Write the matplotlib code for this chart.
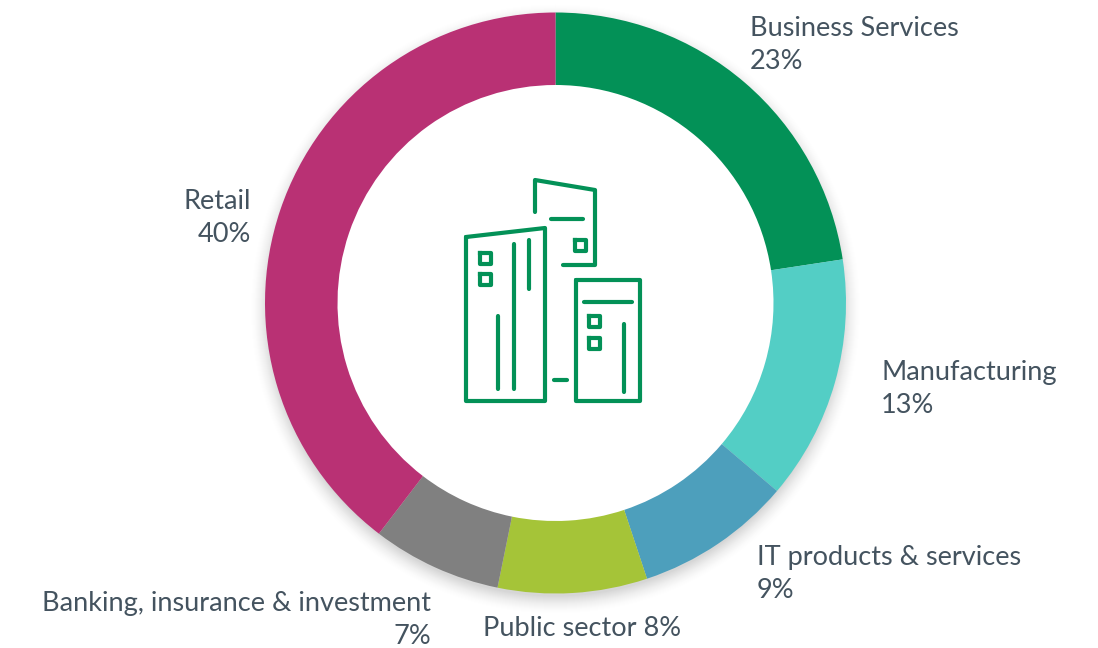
import matplotlib
matplotlib.use("Agg")
import matplotlib.pyplot as plt
from matplotlib.patches import Circle

# Data
sectors = ["Business Services", "Manufacturing", "IT products & services",
           "Public sector", "Banking, insurance & investment", "Retail"]
# arc sizes as measured on the ring (the labels are rounded)
shares = [22.6, 13.6, 8.7, 8.3, 7.2, 39.6]
colors = ["#039157", "#53cec5", "#4d9fbc", "#a5c438", "#808080", "#b93174"]

# label text + where it goes (pixels)
label_text = ["Business Services\n23%", "Manufacturing\n13%", "IT products & services\n9%",
              "Public sector 8%", "Banking, insurance & investment\n7%", "Retail\n40%"]
label_x = [750, 881, 757, 483, 431, 251]
label_y = [45, 389, 574, 629, 620, 218]
label_ha = ["left", "left", "left", "left", "right", "right"]

CX, CY = 555.5, 303
R_OUT, R_IN = 290.5, 218
GREEN = "#039157"
TEXT = "#44535f"

plt.rcParams['font.family'] = ['Lato', 'DejaVu Sans']

fig = plt.figure(figsize=(10.98, 6.48), dpi=100)
ax = fig.add_axes([0, 0, 1, 1])

# soft shadow under the ring
for i in range(18):
    ax.add_patch(Circle((CX, CY + 6), R_OUT + 14 - i, color="black", alpha=0.004 + 0.0006 * i,
                        lw=0, zorder=1))
ax.add_patch(Circle((CX, CY), R_IN + 2, color="white", lw=0, zorder=1.5))

# y axis is flipped below, so angles run the other way round
ax.pie(shares, colors=colors, startangle=-90, counterclock=True, center=(CX, CY), radius=R_OUT,
       wedgeprops=dict(width=R_OUT - R_IN, linewidth=0, zorder=2), frame=True)

ax.set_xlim(0, 1098)
ax.set_ylim(648, 0)
ax.set_aspect("equal")
ax.axis("off")

for txt, x, y, ha in zip(label_text, label_x, label_y, label_ha):
    ax.text(x, y, txt, ha=ha, va="center", fontsize=19.5, color=TEXT, fontweight="normal",
            linespacing=1.42, multialignment=ha, zorder=5)

# building icon, in px
icon_lines = [
    [(466, 237), (545, 228), (545, 401), (466, 401), (466, 237)],
    [(535, 212), (535, 180), (595, 190), (595, 265), (563, 265)],
    [(551, 219), (583, 219)],
    [(576, 280), (640, 280), (640, 401), (576, 401), (576, 280)],
    [(584, 302), (632, 302)],
    [(624, 324), (624, 392)],
    [(554, 380), (567, 380)],
    [(498, 316), (498, 389)],
    [(514, 244), (514, 389)],
    [(529, 240), (529, 289)],
]
icon_boxes = [(480, 253), (480, 274), (575, 240), (589, 316), (589, 338)]

for line in icon_lines:
    ax.plot([p[0] for p in line], [p[1] for p in line], color=GREEN, lw=3,
            solid_capstyle="round", solid_joinstyle="round", zorder=6)
for bx, by in icon_boxes:
    ax.plot([bx - 0.5, bx + 10.5, bx + 10.5, bx - 0.5, bx - 0.5],
            [by - 0.5, by - 0.5, by + 10.5, by + 10.5, by - 0.5],
            color=GREEN, lw=3, solid_joinstyle="round", zorder=6)

fig.savefig("out.png", dpi=100)
